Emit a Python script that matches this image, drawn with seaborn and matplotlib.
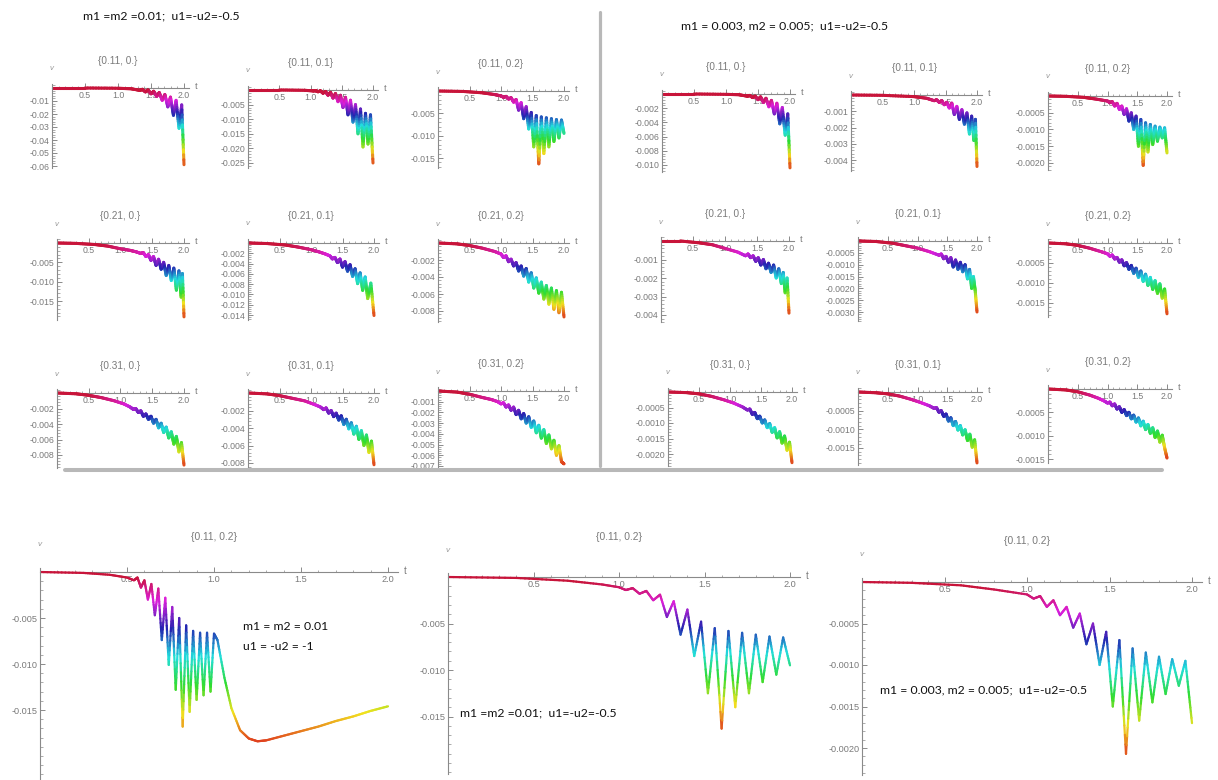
import matplotlib
matplotlib.use("Agg")
import numpy as np
import matplotlib.pyplot as plt
from matplotlib.collections import LineCollection
from matplotlib.colors import Normalize, LinearSegmentedColormap
from matplotlib.lines import Line2D
from matplotlib.ticker import MultipleLocator
import seaborn as sns

sns.set_theme(style="white")
plt.rcParams['font.family'] = ['Liberation Sans', 'DejaVu Sans']

W, H = 1218, 780

# ---- data: v(t) at the turning points of each curve ----
titles = ["{0.11, 0.}", "{0.11, 0.1}", "{0.11, 0.2}",
          "{0.21, 0.}", "{0.21, 0.1}", "{0.21, 0.2}",
          "{0.31, 0.}", "{0.31, 0.1}", "{0.31, 0.2}"]

# left block: m1 = m2 = 0.01
t01 = [0, 0.5, 1.0, 1.2, 1.33, 1.37, 1.415, 1.455, 1.50, 1.54, 1.585, 1.625, 1.67, 1.71, 1.755, 1.795, 1.84, 1.88, 1.925, 1.965, 2.0]
v01 = [0, 0, -0.0002, -0.0006, -0.0018, -0.001, -0.003, -0.0015, -0.0045, -0.0025, -0.0065, -0.0035, -0.0095, -0.005, -0.0145, -0.007, -0.021, -0.0095, -0.031, -0.013, -0.059]

t02 = [0, 0.5, 0.9, 1.04, 1.08, 1.12, 1.16, 1.20, 1.24, 1.28, 1.32, 1.36, 1.40, 1.44, 1.48, 1.52, 1.56, 1.60, 1.64, 1.68, 1.72, 1.76, 1.80, 1.84, 1.88, 1.92, 1.96, 2.0]
v02 = [0, 0, -0.0001, -0.0003, -0.0002, -0.0006, -0.0003, -0.0011, -0.0005, -0.0018, -0.0008, -0.0028, -0.0012, -0.004, -0.0018, -0.006, -0.0025, -0.0085, -0.0035, -0.011, -0.005, -0.015, -0.0065, -0.0195, -0.008, -0.0185, -0.0085, -0.025]

t03 = [0, 0.4, 0.7, 0.9, 1.0, 1.04, 1.08, 1.12, 1.16, 1.20, 1.24, 1.28, 1.32, 1.36, 1.40, 1.44, 1.48, 1.52, 1.56, 1.60, 1.64, 1.68, 1.72, 1.76, 1.80, 1.84, 1.88, 1.92, 1.96, 2.0]
v03 = [0, -0.0001, -0.0004, -0.0008, -0.0011, -0.0014, -0.0012, -0.0018, -0.0015, -0.0025, -0.0019, -0.0043, -0.0026, -0.0062, -0.0035, -0.0085, -0.0048, -0.0125, -0.0055, -0.0163, -0.0058, -0.014, -0.006, -0.0125, -0.0062, -0.0113, -0.0064, -0.0105, -0.0065, -0.0095]

t07 = [0, 0.3, 0.6, 0.8, 1.0, 1.15, 1.25, 1.32, 1.36, 1.40, 1.44, 1.48, 1.52, 1.56, 1.60, 1.64, 1.68, 1.72, 1.76, 1.80, 1.84, 1.88, 1.92, 1.955, 1.975, 2.0]
v07 = [0, -0.0001, -0.0004, -0.0008, -0.0015, -0.0019, -0.0023, -0.0027, -0.0025, -0.0035, -0.003, -0.0045, -0.0035, -0.0058, -0.0042, -0.0068, -0.005, -0.0084, -0.0058, -0.0097, -0.0065, -0.0122, -0.0072, -0.014, -0.0079, -0.0191]

t08 = [0, 0.3, 0.6, 0.8, 1.0, 1.12, 1.22, 1.30, 1.34, 1.38, 1.42, 1.46, 1.50, 1.54, 1.58, 1.62, 1.66, 1.70, 1.74, 1.78, 1.82, 1.86, 1.90, 1.95, 2.0]
v08 = [0, -0.0001, -0.0004, -0.0008, -0.0013, -0.0017, -0.0021, -0.0025, -0.0031, -0.0028, -0.0038, -0.0031, -0.0047, -0.0036, -0.0055, -0.0042, -0.0065, -0.005, -0.0079, -0.0058, -0.0092, -0.0066, -0.0108, -0.0078, -0.0141]

t09 = [0, 0.3, 0.5, 0.7, 0.9, 1.0, 1.04, 1.08, 1.12, 1.16, 1.20, 1.24, 1.28, 1.32, 1.36, 1.40, 1.44, 1.48, 1.52, 1.56, 1.60, 1.64, 1.68, 1.72, 1.76, 1.80, 1.84, 1.88, 1.92, 1.96, 2.0]
v09 = [0, -0.0001, -0.0003, -0.0006, -0.001, -0.0013, -0.0017, -0.0015, -0.0022, -0.0019, -0.0027, -0.0023, -0.0033, -0.0027, -0.0039, -0.003, -0.0046, -0.0035, -0.0053, -0.0041, -0.0059, -0.0046, -0.0066, -0.005, -0.0072, -0.0053, -0.0078, -0.0056, -0.0082, -0.0058, -0.0087]

t13 = [0, 0.3, 0.5, 0.7, 0.9, 1.05, 1.15, 1.20, 1.24, 1.28, 1.32, 1.36, 1.40, 1.44, 1.48, 1.52, 1.56, 1.60, 1.64, 1.68, 1.72, 1.76, 1.80, 1.84, 1.88, 1.92, 1.96, 2.0]
v13 = [0, -0.0001, -0.0003, -0.0006, -0.001, -0.0014, -0.0018, -0.0021, -0.002, -0.0025, -0.0023, -0.003, -0.0027, -0.0034, -0.003, -0.0039, -0.0034, -0.0045, -0.0039, -0.0051, -0.0044, -0.0058, -0.005, -0.0066, -0.0056, -0.0076, -0.0064, -0.0093]

t14 = [0, 0.3, 0.5, 0.7, 0.9, 1.05, 1.15, 1.20, 1.24, 1.28, 1.32, 1.36, 1.40, 1.44, 1.48, 1.52, 1.56, 1.60, 1.64, 1.68, 1.72, 1.76, 1.80, 1.84, 1.88, 1.92, 1.96, 2.0]
v14 = [0, -0.0001, -0.0003, -0.0006, -0.0009, -0.0013, -0.0016, -0.0019, -0.0017, -0.0023, -0.002, -0.0027, -0.0023, -0.0031, -0.0026, -0.0036, -0.003, -0.0041, -0.0034, -0.0047, -0.0038, -0.0053, -0.0043, -0.006, -0.0048, -0.0068, -0.0055, -0.0082]

t15 = [0, 0.3, 0.5, 0.7, 0.85, 0.95, 1.00, 1.04, 1.08, 1.12, 1.16, 1.20, 1.24, 1.28, 1.32, 1.36, 1.40, 1.44, 1.48, 1.52, 1.56, 1.60, 1.64, 1.68, 1.72, 1.76, 1.80, 1.84, 1.88, 1.92, 1.96, 2.0]
v15 = [0, -0.0001, -0.0003, -0.0006, -0.0008, -0.0010, -0.0012, -0.0011, -0.0015, -0.0013, -0.0018, -0.0015, -0.0022, -0.0018, -0.0026, -0.0021, -0.003, -0.0024, -0.0034, -0.0028, -0.0039, -0.0032, -0.0044, -0.0036, -0.0049, -0.0041, -0.0054, -0.0046, -0.006, -0.0051, -0.0066, -0.0068]

# right block: m1 = 0.003, m2 = 0.005
t04 = [0, 0.5, 1.0, 1.2, 1.33, 1.37, 1.415, 1.455, 1.50, 1.54, 1.585, 1.625, 1.67, 1.71, 1.755, 1.795, 1.84, 1.88, 1.925, 1.965, 2.0]
v04 = [0, 0, -0.00005, -0.0001, -0.0003, -0.0002, -0.0005, -0.0003, -0.0008, -0.0004, -0.0012, -0.0006, -0.0018, -0.0009, -0.0028, -0.0013, -0.0042, -0.0019, -0.0058, -0.0028, -0.0104]

t05 = [0, 0.5, 1.0, 1.2, 1.32, 1.36, 1.40, 1.44, 1.48, 1.52, 1.56, 1.60, 1.64, 1.68, 1.72, 1.76, 1.80, 1.84, 1.88, 1.915, 1.95, 1.975, 2.0]
v05 = [0, -0.00002, -0.0001, -0.0002, -0.00035, -0.0003, -0.00045, -0.00035, -0.0006, -0.00045, -0.0008, -0.0005, -0.0012, -0.0007, -0.0015, -0.0009, -0.0018, -0.0011, -0.0024, -0.0013, -0.0028, -0.0015, -0.0044]

t06 = [0, 0.3, 0.6, 0.8, 1.0, 1.04, 1.08, 1.12, 1.16, 1.20, 1.24, 1.28, 1.32, 1.36, 1.40, 1.44, 1.48, 1.52, 1.56, 1.60, 1.64, 1.68, 1.72, 1.76, 1.80, 1.84, 1.88, 1.92, 1.96, 2.0]
v06 = [0, -0.00001, -0.00004, -0.00009, -0.00015, -0.0002, -0.00017, -0.0003, -0.00022, -0.0004, -0.0003, -0.00055, -0.00038, -0.00075, -0.0005, -0.001, -0.0006, -0.0015, -0.0007, -0.00207, -0.0008, -0.00167, -0.00085, -0.00145, -0.0009, -0.00135, -0.00093, -0.00125, -0.00095, -0.0017]

t10 = [0, 0.3, 0.6, 0.8, 1.0, 1.2, 1.32, 1.36, 1.40, 1.44, 1.48, 1.52, 1.56, 1.60, 1.64, 1.68, 1.72, 1.76, 1.80, 1.84, 1.88, 1.91, 1.94, 1.97, 2.0]
v10 = [0, 0, -0.0001, -0.0002, -0.0004, -0.0006, -0.0008, -0.0007, -0.0009, -0.0008, -0.0011, -0.0009, -0.0013, -0.001, -0.0015, -0.0012, -0.0017, -0.0013, -0.002, -0.0015, -0.0023, -0.0017, -0.0028, -0.002, -0.0039]

t11 = [0, 0.3, 0.6, 0.8, 1.0, 1.2, 1.36, 1.40, 1.44, 1.48, 1.52, 1.56, 1.60, 1.64, 1.68, 1.72, 1.76, 1.80, 1.84, 1.875, 1.91, 1.94, 1.97, 2.0]
v11 = [0, -0.00002, -0.0001, -0.0002, -0.0003, -0.00045, -0.0006, -0.00055, -0.00075, -0.00065, -0.0009, -0.0007, -0.0011, -0.0008, -0.0012, -0.0009, -0.0013, -0.001, -0.0016, -0.0012, -0.002, -0.0015, -0.0021, -0.003]

t12 = [0, 0.3, 0.5, 0.7, 0.9, 1.0, 1.04, 1.08, 1.12, 1.16, 1.20, 1.24, 1.28, 1.32, 1.36, 1.40, 1.44, 1.48, 1.52, 1.56, 1.60, 1.64, 1.68, 1.72, 1.76, 1.80, 1.84, 1.88, 1.92, 1.96, 2.0]
v12 = [0, -0.00002, -0.00006, -0.00013, -0.00022, -0.00027, -0.00033, -0.0003, -0.0004, -0.00036, -0.00048, -0.00042, -0.00057, -0.00049, -0.00066, -0.00056, -0.00076, -0.00063, -0.00086, -0.0007, -0.00096, -0.00078, -0.00106, -0.00086, -0.00116, -0.00094, -0.00126, -0.00102, -0.00138, -0.00115, -0.00177]

t16 = [0, 0.3, 0.5, 0.7, 0.9, 1.05, 1.2, 1.28, 1.32, 1.36, 1.40, 1.44, 1.48, 1.52, 1.56, 1.60, 1.64, 1.68, 1.72, 1.76, 1.80, 1.84, 1.88, 1.92, 1.96, 2.0]
v16 = [0, -0.00002, -0.00006, -0.00014, -0.00025, -0.00035, -0.00048, -0.00058, -0.00055, -0.00072, -0.00066, -0.00086, -0.00078, -0.001, -0.0009, -0.00115, -0.00102, -0.0013, -0.00115, -0.00148, -0.00128, -0.00165, -0.00142, -0.00188, -0.00162, -0.00228]

t17 = [0, 0.3, 0.5, 0.7, 0.9, 1.05, 1.2, 1.28, 1.32, 1.36, 1.40, 1.44, 1.48, 1.52, 1.56, 1.60, 1.64, 1.68, 1.72, 1.76, 1.80, 1.84, 1.88, 1.92, 1.96, 2.0]
v17 = [0, -0.00002, -0.00005, -0.00011, -0.0002, -0.00028, -0.00037, -0.00044, -0.00042, -0.00054, -0.0005, -0.00065, -0.00059, -0.00078, -0.00069, -0.0009, -0.00079, -0.00102, -0.0009, -0.00115, -0.00101, -0.0013, -0.00113, -0.00148, -0.00128, -0.0019]

t18 = [0, 0.3, 0.5, 0.7, 0.85, 0.95, 1.00, 1.04, 1.08, 1.12, 1.16, 1.20, 1.24, 1.28, 1.32, 1.36, 1.40, 1.44, 1.48, 1.52, 1.56, 1.60, 1.64, 1.68, 1.72, 1.76, 1.80, 1.84, 1.88, 1.92, 1.96, 2.0]
v18 = [0, -0.00002, -0.00006, -0.00013, -0.0002, -0.00026, -0.0003, -0.00028, -0.00036, -0.00032, -0.00043, -0.00038, -0.0005, -0.00044, -0.00057, -0.0005, -0.00064, -0.00056, -0.00071, -0.00062, -0.00079, -0.00069, -0.00087, -0.00076, -0.00095, -0.00083, -0.00104, -0.0009, -0.00114, -0.00099, -0.00126, -0.00148]

# bottom row, {0.11, 0.2}
tb1 = [0, 0.25, 0.4, 0.5, 0.54, 0.56, 0.58, 0.60, 0.62, 0.64, 0.66, 0.68, 0.70, 0.72, 0.74, 0.76, 0.78, 0.80, 0.82, 0.84, 0.86, 0.88, 0.90, 0.92, 0.94, 0.96, 0.98, 1.0,
       1.02, 1.06, 1.1, 1.15, 1.2, 1.25, 1.3, 1.4, 1.5, 1.6, 1.7, 1.8, 1.9, 2.0]
vb1 = [0, -0.0001, -0.0003, -0.0006, -0.0009, -0.0006, -0.0017, -0.0009, -0.003, -0.0013, -0.0047, -0.0018, -0.0074, -0.0028, -0.0101, -0.0038, -0.0128, -0.005, -0.0168, -0.0058, -0.0152, -0.0064, -0.0139, -0.0066, -0.0134, -0.0066, -0.013, -0.0067,
       -0.0074, -0.0115, -0.0148, -0.0172, -0.0181, -0.0184, -0.0183, -0.0178, -0.0173, -0.0168, -0.0162, -0.0157, -0.0151, -0.0146]

tb2 = [0, 0.4, 0.7, 0.9, 1.0, 1.04, 1.08, 1.12, 1.16, 1.20, 1.24, 1.28, 1.32, 1.36, 1.40, 1.44, 1.48, 1.52, 1.56, 1.60, 1.64, 1.68, 1.72, 1.76, 1.80, 1.84, 1.88, 1.92, 1.96, 2.0]
vb2 = [0, -0.0001, -0.0004, -0.0008, -0.0011, -0.0014, -0.0012, -0.0018, -0.0015, -0.0025, -0.0019, -0.0043, -0.0026, -0.0062, -0.0035, -0.0085, -0.0048, -0.0125, -0.0055, -0.0163, -0.0058, -0.014, -0.006, -0.0125, -0.0062, -0.0113, -0.0064, -0.0105, -0.0065, -0.0095]

tb3 = [0, 0.3, 0.6, 0.8, 1.0, 1.04, 1.08, 1.12, 1.16, 1.20, 1.24, 1.28, 1.32, 1.36, 1.40, 1.44, 1.48, 1.52, 1.56, 1.60, 1.64, 1.68, 1.72, 1.76, 1.80, 1.84, 1.88, 1.92, 1.96, 2.0]
vb3 = [0, -0.00001, -0.00004, -0.00009, -0.00015, -0.0002, -0.00017, -0.0003, -0.00022, -0.0004, -0.0003, -0.00055, -0.00038, -0.00075, -0.0005, -0.001, -0.0006, -0.0015, -0.0007, -0.00207, -0.0008, -0.00167, -0.00085, -0.00145, -0.0009, -0.00135, -0.00093, -0.00125, -0.00095, -0.0017]

# y tick values per panel
ticks_01 = [-0.01, -0.02, -0.03, -0.04, -0.05, -0.06]
ticks_02 = [-0.005, -0.010, -0.015, -0.020, -0.025]
ticks_03 = [-0.005, -0.010, -0.015]
ticks_04 = [-0.002, -0.004, -0.006, -0.008, -0.010]
ticks_05 = [-0.001, -0.002, -0.003, -0.004]
ticks_06 = [-0.0005, -0.0010, -0.0015, -0.0020]
ticks_07 = [-0.005, -0.010, -0.015]
ticks_08 = [-0.002, -0.004, -0.006, -0.008, -0.010, -0.012, -0.014]
ticks_09 = [-0.002, -0.004, -0.006, -0.008]
ticks_10 = [-0.001, -0.002, -0.003, -0.004]
ticks_11 = [-0.0005, -0.0010, -0.0015, -0.0020, -0.0025, -0.0030]
ticks_12 = [-0.0005, -0.0010, -0.0015]
ticks_13 = [-0.002, -0.004, -0.006, -0.008]
ticks_14 = [-0.002, -0.004, -0.006, -0.008]
ticks_15 = [-0.001, -0.002, -0.003, -0.004, -0.005, -0.006, -0.007]
ticks_16 = [-0.0005, -0.0010, -0.0015, -0.0020]
ticks_17 = [-0.0005, -0.0010, -0.0015]
ticks_18 = [-0.0005, -0.0010, -0.0015]
ticks_b1 = [-0.005, -0.010, -0.015]
ticks_b2 = [-0.005, -0.010, -0.015]
ticks_b3 = [-0.0005, -0.0010, -0.0015, -0.0020]

x_ticks = [0.5, 1.0, 1.5, 2.0]

# hue colouring by v: bottom of each curve red/orange, top crimson
hue = LinearSegmentedColormap.from_list("hue", [
    (0.0, "#e0421e"), (1 / 6, "#f2e21e"), (2 / 6, "#2fdc2f"), (3 / 6, "#22dede"),
    (4 / 6, "#2323b0"), (0.83, "#dc1fdc"), (0.97, "#c8143a"), (1.0, "#c8143a")])

GREY = "#7a7a7a"
fig = plt.figure(figsize=(W / 100, H / 100), dpi=100)


def panel(t, v, ticks, dec, x0, x2, y0, scale, vmin, title,
          fs=6.3, fs_title=7.2, lw=2.2, title_dy=27, vpad=15, xmax=2.08):
    right = x0 + (x2 - x0) * xmax / 2
    top = y0 - 4
    bottom = y0 + (-vmin) * scale
    ax = fig.add_axes([x0 / W, 1 - bottom / H, (right - x0) / W, (bottom - top) / H])
    ax.set_xlim(0, xmax)
    ax.set_ylim(vmin, 4 / scale)
    ax.patch.set_alpha(0)

    t = np.asarray(t, float)
    v = np.asarray(v, float)
    norm = Normalize(vmin=v.min(), vmax=v.max())
    # each straight piece is cut in short bits only so that its colour can run along it
    frac = np.linspace(0, 1, 13)
    segs, cval = [], []
    for i in range(len(t) - 1):
        xs = t[i] + (t[i + 1] - t[i]) * frac
        ys = v[i] + (v[i + 1] - v[i]) * frac
        for j in range(len(frac) - 1):
            segs.append([(xs[j], ys[j]), (xs[j + 1], ys[j + 1])])
            cval.append((ys[j] + ys[j + 1]) / 2)
    lc = LineCollection(segs, cmap=hue, norm=norm, linewidths=lw, capstyle="round", joinstyle="round")
    lc.set_array(np.array(cval))
    ax.add_collection(lc)

    sns.despine(ax=ax)
    ax.spines["bottom"].set_position(("data", 0))
    for s in ["left", "bottom"]:
        ax.spines[s].set_color("#8a8a8a")
        ax.spines[s].set_linewidth(0.8)
    ax.spines["bottom"].set_zorder(0.5)

    ax.set_xticks(x_ticks)
    ax.set_xticklabels([f"{x:.1f}" for x in x_ticks])
    ax.xaxis.set_minor_locator(MultipleLocator(0.1))
    step = abs(ticks[1] - ticks[0])
    ax.set_yticks(ticks)
    ax.set_yticklabels([f"-{abs(y):.{dec}f}" for y in ticks])
    ax.yaxis.set_minor_locator(MultipleLocator(step / 5))
    ax.tick_params(which="major", direction="in", length=3.5, width=0.7, color="#8a8a8a",
                   labelsize=fs, labelcolor=GREY, pad=2)
    ax.tick_params(which="minor", direction="in", length=1.8, width=0.5, color="#8a8a8a")
    ax.tick_params(axis="x", which="both", bottom=True, top=False)
    ax.tick_params(axis="y", which="both", left=True, right=False)

    ax.annotate("v", xy=(0, 1), xycoords="axes fraction", xytext=(0, vpad * 0.72),
                textcoords="offset points", ha="center", va="center",
                fontsize=fs * 0.9, color="#9a9a9a", style="italic")
    ax.annotate("t", xy=(1, 0), xycoords=ax.get_yaxis_transform(), xytext=(4, 1),
                textcoords="offset points", ha="left", va="center", fontsize=fs * 1.05, color=GREY)
    fig.text(((x0 + x2) / 2) / W, 1 - (y0 - title_dy) / H, title, ha="center", va="center",
             fontsize=fs_title, color=GREY)
    return ax


# left block
panel(t01, v01, ticks_01, 2, 52, 184, 88, 1300, -0.0615, titles[0])
panel(t02, v02, ticks_02, 3, 248, 373, 90, 2920, -0.0268, titles[1])
panel(t03, v03, ticks_03, 3, 438, 564, 91, 4467, -0.0173, titles[2])
panel(t07, v07, ticks_07, 3, 57, 184, 243, 3867, -0.0199, titles[3])
panel(t08, v08, ticks_08, 3, 248, 374, 243, 5143, -0.0150, titles[4])
panel(t09, v09, ticks_09, 3, 438, 564, 243, 8500, -0.0093, titles[5])
panel(t13, v13, ticks_13, 3, 57, 184, 393, 7750, -0.0097, titles[6])
panel(t14, v14, ticks_14, 3, 248, 374, 393, 8750, -0.0086, titles[7])
panel(t15, v15, ticks_15, 3, 438, 564, 391, 10714, -0.0072, titles[8])

# right block
panel(t04, v04, ticks_04, 3, 662, 790, 94, 7100, -0.0110, titles[0])
panel(t05, v05, ticks_05, 3, 851, 977, 95, 16250, -0.0047, titles[1])
panel(t06, v06, ticks_06, 4, 1048, 1167, 96, 33500, -0.0022, titles[2])
panel(t10, v10, ticks_10, 3, 661, 789, 241, 18500, -0.0044, titles[3])
panel(t11, v11, ticks_11, 4, 858, 977, 241, 23667, -0.0034, titles[4])
panel(t12, v12, ticks_12, 4, 1048, 1167, 243, 40000, -0.00185, titles[5])
panel(t16, v16, ticks_16, 4, 668, 792, 392, 31000, -0.0024, titles[6])
panel(t17, v17, ticks_17, 4, 858, 977, 392, 37333, -0.00196, titles[7])
panel(t18, v18, ticks_18, 4, 1048, 1167, 389, 46667, -0.00159, titles[8])

# bottom row
big = dict(fs=6.6, fs_title=7.4, lw=1.6, vpad=23, xmax=2.06)
panel(tb1, vb1, ticks_b1, 3, 40, 388, 572, 9200, -0.0226, "{0.11, 0.2}", title_dy=35, **big)
panel(tb2, vb2, ticks_b2, 3, 448, 790, 577, 9300, -0.0212, "{0.11, 0.2}", title_dy=40, **big)
panel(tb3, vb3, ticks_b3, 4, 862, 1192, 582, 83000, -0.00233, "{0.11, 0.2}", title_dy=41, **big)

# block headings and notes
txt = dict(fontsize=8.8, color="#111111", family=["Lato", "DejaVu Sans"])
fig.text(161 / W, 1 - 16 / H, "m1 =m2 =0.01;  u1=-u2=-0.5", ha="center", va="center", **txt)
fig.text(785 / W, 1 - 26 / H, "m1 = 0.003, m2 = 0.005;  u1=-u2=-0.5", ha="center", va="center", **txt)
fig.text(243 / W, 1 - 627 / H, "m1 = m2 = 0.01", ha="left", va="center", **txt)
fig.text(243 / W, 1 - 646 / H, "u1 = -u2 = -1", ha="left", va="center", **txt)
fig.text(460 / W, 1 - 713 / H, "m1 =m2 =0.01;  u1=-u2=-0.5", ha="left", va="center", **txt)
fig.text(880 / W, 1 - 690 / H, "m1 = 0.003, m2 = 0.005;  u1=-u2=-0.5", ha="left", va="center", **txt)

# separators
fig.add_artist(Line2D([600 / W, 600 / W], [1 - 12 / H, 1 - 466 / H], color="#b8b8b8", lw=2.3))
fig.add_artist(Line2D([65 / W, 1162 / W], [1 - 470 / H, 1 - 470 / H], color="#b8b8b8", lw=2.9))

fig.savefig("out.png", dpi=100, facecolor="white")
